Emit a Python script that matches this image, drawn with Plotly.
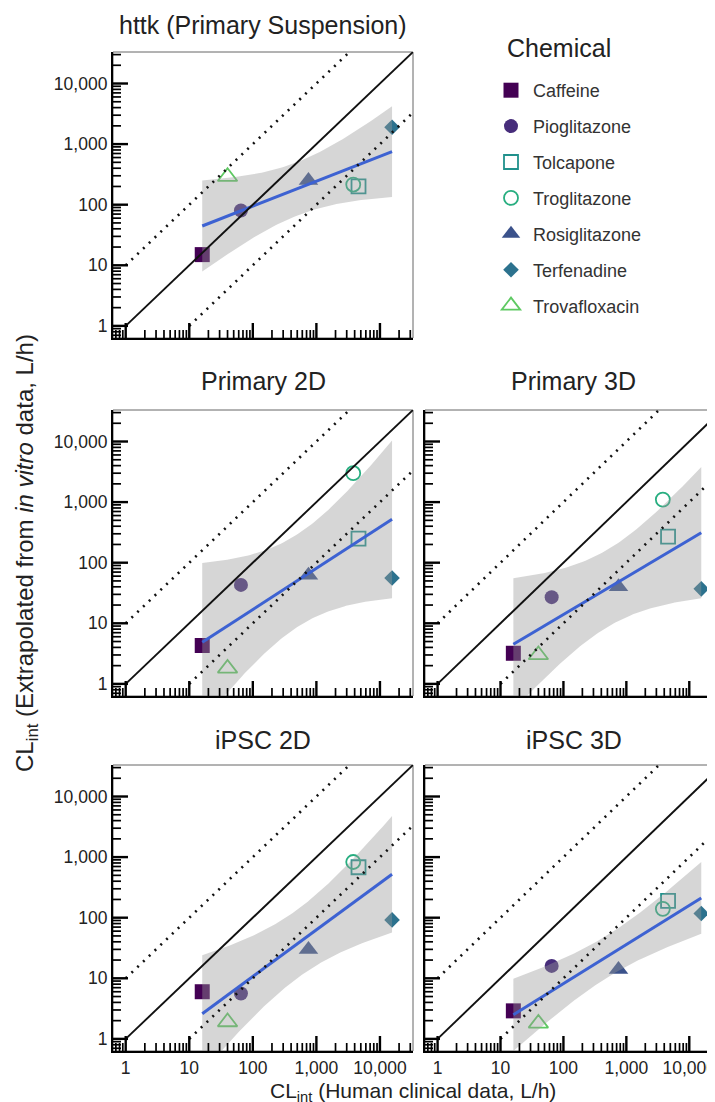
import numpy as np
import plotly.graph_objects as go

# ---------------- data ----------------
chemicals = ["Caffeine", "Pioglitazone", "Tolcapone", "Troglitazone",
             "Rosiglitazone", "Terfenadine", "Trovafloxacin"]
clint_human = [16, 65, 4600, 3800, 750, 15500, 40]

panel_titles = ["httk (Primary Suspension)", "Primary 2D", "Primary 3D",
                "iPSC 2D", "iPSC 3D"]
httk_vals = [15, 80, 200, 215, 250, 1900, 290]
primary2d_vals = [4.3, 43, 250, 3000, 62, 56, 1.8]
primary3d_vals = [3.2, 27, 270, 1100, 40, 37, 3.0]
ipsc2d_vals = [6.0, 5.6, 680, 830, 30, 92, 1.9]
ipsc3d_vals = [2.9, 16, 190, 140, 14, 117, 1.8]
panel_values = [httk_vals, primary2d_vals, primary3d_vals, ipsc2d_vals, ipsc3d_vals]

major_tick_vals = [1, 10, 100, 1000, 10000]
major_tick_text = ["1", "10", "100", "1,000", "10,000"]
minor_digits = [2, 3, 4, 5, 6, 7, 8, 9]
minor_decades = [0.1, 1, 10, 100, 1000, 10000]

# reference lines: y = factor * x, starting at x_start
ref_factors = [1, 10, 0.1]
ref_x_start = [1, 1, 10]
ref_x_end = 1e6

# ---------------- styles ----------------
colors = {"Caffeine": "#440154", "Pioglitazone": "#472d7b", "Rosiglitazone": "#3b528b",
          "Terfenadine": "#2c728e", "Tolcapone": "#21918c", "Troglitazone": "#28ae80",
          "Trovafloxacin": "#5ec962"}
symbols = {"Caffeine": "square", "Pioglitazone": "circle", "Tolcapone": "square-open",
           "Troglitazone": "circle-open", "Rosiglitazone": "triangle-up",
           "Terfenadine": "diamond", "Trovafloxacin": "triangle-up-open"}
sizes = {"Caffeine": 15, "Pioglitazone": 14, "Tolcapone": 14, "Troglitazone": 14,
         "Rosiglitazone": 17, "Terfenadine": 12, "Trovafloxacin": 17}

FONT = "Liberation Sans, Arial, sans-serif"
W, H = 715, 1102
ML, MR, MT, MB = 105, 1, 44, 59
PW, PH = W - ML - MR, H - MT - MB

def px_x(p):
    return (p - ML) / PW

def px_y(p):
    return (H - MB - p) / PH

# panel boxes in pixels (left, right, top, bottom)
boxes = [(105, 405, 44, 330), (105, 405, 402, 688), (417, 714, 402, 688),
         (105, 405, 757, 1043), (417, 714, 757, 1043)]

AX_RANGE = [-0.2, 4.52]
T_CRIT = 2.5706  # t(0.975, df = 5)
MAJOR_LEN, MINOR_LEN = 15, 8

lo_lim, hi_lim = 10 ** AX_RANGE[0], 10 ** AX_RANGE[1]
minor_vals = [k * d for d in minor_decades for k in minor_digits
              if lo_lim < k * d < hi_lim]

def axis_frac(v):
    """position of a log-axis value as a fraction of the axis length"""
    return (np.log10(v) - AX_RANGE[0]) / (AX_RANGE[1] - AX_RANGE[0])

fig = go.Figure()
layout_axes = {}
shapes = []

def akey(prefix, n):
    return prefix if n == 1 else f"{prefix}{n}"

for i, (vals, box) in enumerate(zip(panel_values, boxes)):
    n = i + 1
    xa, ya = akey("x", n), akey("y", n)
    # points
    for c, xv, yv in zip(chemicals, clint_human, vals):
        is_open = symbols[c].endswith("open")
        fig.add_trace(go.Scatter(
            x=[xv], y=[yv], mode="markers", name=c, legendgroup=c,
            showlegend=(n == 1), xaxis=xa, yaxis=ya,
            marker=dict(symbol=symbols[c], size=sizes[c], color=colors[c],
                        line=dict(width=1.8 if is_open else 0, color=colors[c])),
            hoverinfo="skip"))
    # linear fit in log-log space with 95% confidence band (as geom_smooth lm)
    lx = np.log10(np.array(clint_human, float))
    ly = np.log10(np.array(vals, float))
    slope, icpt = np.polyfit(lx, ly, 1)
    grid = np.linspace(lx.min(), lx.max(), 100)
    pred = icpt + slope * grid
    resid = ly - (icpt + slope * lx)
    s = np.sqrt(np.sum(resid ** 2) / (len(lx) - 2))
    sxx = np.sum((lx - lx.mean()) ** 2)
    se = s * np.sqrt(1 / len(lx) + (grid - lx.mean()) ** 2 / sxx)
    up, lo = pred + T_CRIT * se, pred - T_CRIT * se
    fig.add_trace(go.Scatter(
        x=np.concatenate([10 ** grid, 10 ** grid[::-1]]),
        y=np.concatenate([10 ** up, 10 ** lo[::-1]]),
        fill="toself", fillcolor="rgba(153,153,153,0.40)", line=dict(width=0),
        mode="lines", showlegend=False, xaxis=xa, yaxis=ya, hoverinfo="skip"))
    fig.add_trace(go.Scatter(
        x=10 ** grid, y=10 ** pred, mode="lines",
        line=dict(color="#3d62d2", width=3), showlegend=False,
        xaxis=xa, yaxis=ya, hoverinfo="skip"))
    # reference lines
    for f, xs in zip(ref_factors, ref_x_start):
        fig.add_trace(go.Scatter(
            x=[xs, ref_x_end], y=[xs * f, ref_x_end * f], mode="lines",
            line=dict(color="#111111", width=1.9 if f == 1 else 2.6,
                      dash="solid" if f == 1 else "2px,6px"),
            showlegend=False, xaxis=xa, yaxis=ya, hoverinfo="skip"))

    l, r, t, b = box
    common = dict(type="log", range=AX_RANGE, showgrid=False, zeroline=False,
                  showline=True, linecolor="black", linewidth=2.2, ticks="",
                  tickmode="array", tickvals=major_tick_vals, ticktext=major_tick_text,
                  tickfont=dict(family=FONT, size=17.5, color="#222"))
    layout_axes[akey("xaxis", n)] = dict(common, domain=[px_x(l), px_x(r)], anchor=ya,
                                         showticklabels=(n in (4, 5)))
    layout_axes[akey("yaxis", n)] = dict(common, domain=[px_y(b), px_y(t)], anchor=xa,
                                         showticklabels=(n in (1, 2, 4)))

    # inside tick marks (major long, minor short), drawn in axis-domain units
    pw, ph = r - l, b - t
    for vlist, tlen, tw in ((major_tick_vals, MAJOR_LEN, 2.4), (minor_vals, MINOR_LEN, 1.7)):
        for v in vlist:
            fpos = axis_frac(v)
            shapes.append(dict(type="line", xref=f"{xa} domain", yref=f"{ya} domain",
                               x0=fpos, x1=fpos, y0=0, y1=tlen / ph,
                               line=dict(color="black", width=tw)))
            shapes.append(dict(type="line", xref=f"{xa} domain", yref=f"{ya} domain",
                               x0=0, x1=tlen / pw, y0=fpos, y1=fpos,
                               line=dict(color="black", width=tw)))
    # top/right panel border
    shapes.append(dict(type="rect", xref=f"{xa} domain", yref=f"{ya} domain",
                       x0=0, x1=1, y0=0, y1=1, line=dict(color="#666", width=1),
                       layer="below"))

fig.update_layout(**layout_axes)

# panel titles
title_y = [17, 373, 373, 732, 732]
annotations = []
for title, box, ty in zip(panel_titles, boxes, title_y):
    l, r, t, b = box
    annotations.append(dict(text=title, x=px_x((l + r) / 2), y=px_y(ty),
                            xref="paper", yref="paper", xanchor="center",
                            yanchor="middle", showarrow=False,
                            font=dict(family=FONT, size=25, color="#222")))
annotations.append(dict(text="CL<sub>int</sub> (Human clinical data, L/h)",
                        x=px_x(405), y=px_y(1084), xref="paper", yref="paper",
                        xanchor="center", yanchor="middle", showarrow=False,
                        font=dict(family=FONT, size=21, color="#222")))
annotations.append(dict(text="CL<sub>int</sub> (Extrapolated from <i>in vitro</i> data, L/h)",
                        x=px_x(18), y=px_y(545), xref="paper", yref="paper",
                        xanchor="center", yanchor="middle", textangle=-90,
                        showarrow=False,
                        font=dict(family=FONT, size=24, color="#222")))
# legend title
annotations.append(dict(text="Chemical", x=px_x(497), y=px_y(40), xref="paper",
                        yref="paper", xanchor="left", yanchor="middle",
                        showarrow=False,
                        font=dict(family=FONT, size=25, color="#222")))

fig.update_layout(
    width=W, height=H, margin=dict(l=ML, r=MR, t=MT, b=MB),
    paper_bgcolor="white", plot_bgcolor="white",
    annotations=annotations, shapes=shapes,
    legend=dict(x=px_x(481), y=px_y(64), xanchor="left", yanchor="top",
                font=dict(family=FONT, size=18, color="#333"),
                traceorder="grouped", tracegroupgap=9.5, itemsizing="trace",
                itemwidth=34, bgcolor="rgba(0,0,0,0)"),
    showlegend=True,
)

fig.write_html("out.html")
